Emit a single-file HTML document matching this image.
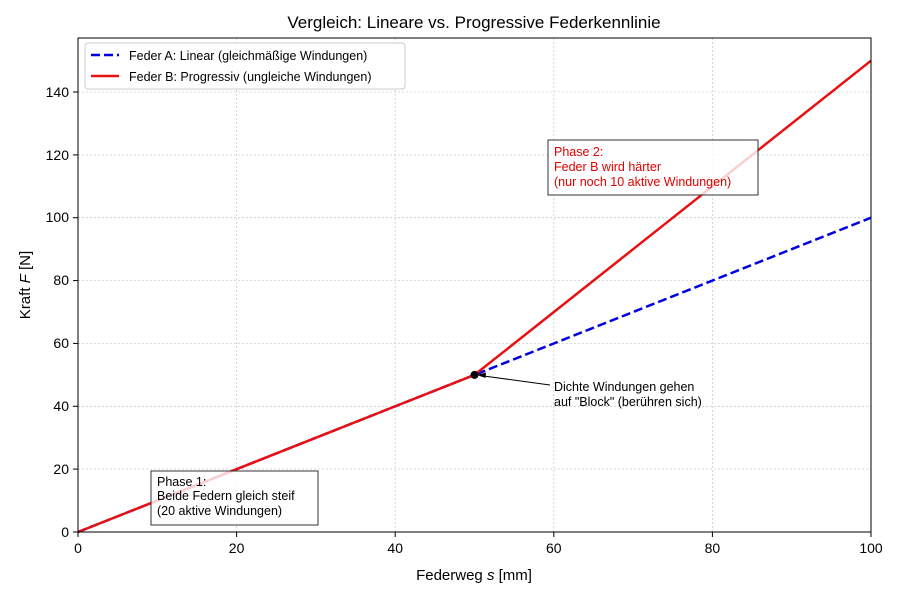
<!DOCTYPE html>
<html><head><meta charset="utf-8"><style>body{margin:0;background:#fff}</style></head><body>
<svg width="900" height="600" xmlns="http://www.w3.org/2000/svg" font-family="Liberation Sans, DejaVu Sans, sans-serif">
<rect width="900" height="600" fill="#fff"/>
<g stroke="#ccc" stroke-width="0.8" stroke-dasharray="2,2">
<line x1="78" y1="38" x2="78" y2="532"/><line x1="236.6" y1="38" x2="236.6" y2="532"/><line x1="395.2" y1="38" x2="395.2" y2="532"/><line x1="553.8" y1="38" x2="553.8" y2="532"/><line x1="712.4" y1="38" x2="712.4" y2="532"/>
<line x1="78" y1="469.1" x2="871" y2="469.1"/><line x1="78" y1="406.3" x2="871" y2="406.3"/><line x1="78" y1="343.4" x2="871" y2="343.4"/><line x1="78" y1="280.6" x2="871" y2="280.6"/><line x1="78" y1="217.7" x2="871" y2="217.7"/><line x1="78" y1="154.9" x2="871" y2="154.9"/><line x1="78" y1="92" x2="871" y2="92"/>
</g>
<polyline points="78,532 474.5,374.9 871,217.7" fill="none" stroke="#0000e0" stroke-width="2.5" stroke-dasharray="9,4"/>
<polyline points="78,532 474.5,374.9 871,60.7" fill="none" stroke="#e81010" stroke-width="2.5"/>
<circle cx="474.5" cy="374.9" r="4" fill="#000"/>
<line x1="550" y1="385" x2="480" y2="375.5" stroke="#000" stroke-width="1"/>
<polygon points="477,375 486,372.5 485.5,378" fill="#000"/>
<rect x="78" y="38" width="793" height="494" fill="none" stroke="#000" stroke-width="1"/>
<g stroke="#000"><line x1="78" y1="532" x2="78" y2="537"/><line x1="236.6" y1="532" x2="236.6" y2="537"/><line x1="395.2" y1="532" x2="395.2" y2="537"/><line x1="553.8" y1="532" x2="553.8" y2="537"/><line x1="712.4" y1="532" x2="712.4" y2="537"/><line x1="871" y1="532" x2="871" y2="537"/>
<line x1="73" y1="532" x2="78" y2="532"/><line x1="73" y1="469.1" x2="78" y2="469.1"/><line x1="73" y1="406.3" x2="78" y2="406.3"/><line x1="73" y1="343.4" x2="78" y2="343.4"/><line x1="73" y1="280.6" x2="78" y2="280.6"/><line x1="73" y1="217.7" x2="78" y2="217.7"/><line x1="73" y1="154.9" x2="78" y2="154.9"/><line x1="73" y1="92" x2="78" y2="92"/></g>
<g font-size="14" text-anchor="middle" fill="#000">
<text x="78" y="553">0</text><text x="236.6" y="553">20</text><text x="395.2" y="553">40</text><text x="553.8" y="553">60</text><text x="712.4" y="553">80</text><text x="871" y="553">100</text></g>
<g font-size="14" text-anchor="end" fill="#000">
<text x="69" y="537">0</text><text x="69" y="474">20</text><text x="69" y="411">40</text><text x="69" y="348">60</text><text x="69" y="285">80</text><text x="69" y="222">100</text><text x="69" y="160">120</text><text x="69" y="97">140</text></g>
<text x="474" y="28" font-size="17" text-anchor="middle">Vergleich: Lineare vs. Progressive Federkennlinie</text>
<text x="474" y="580" font-size="15" text-anchor="middle">Federweg <tspan font-style="italic">s</tspan> [mm]</text>
<text transform="translate(30,285) rotate(-90)" font-size="15" text-anchor="middle">Kraft <tspan font-style="italic">F</tspan> [N]</text>
<rect x="85" y="43" width="320" height="46" rx="3" fill="#fff" stroke="#ccc"/>
<line x1="91" y1="55" x2="119" y2="55" stroke="#0000e0" stroke-width="2.5" stroke-dasharray="9,4"/>
<line x1="91" y1="76" x2="119" y2="76" stroke="#e81010" stroke-width="2.5"/>
<text x="129" y="60" font-size="12.5">Feder A: Linear (gleichmäßige Windungen)</text>
<text x="129" y="81" font-size="12.5">Feder B: Progressiv (ungleiche Windungen)</text>
<rect x="151" y="471" width="167" height="54" fill="#fff" fill-opacity="0.8" stroke="#333"/>
<g font-size="12.5"><text x="157" y="486">Phase 1:</text><text x="157" y="500">Beide Federn gleich steif</text><text x="157" y="515">(20 aktive Windungen)</text></g>
<rect x="548" y="140" width="210" height="55" fill="#fff" fill-opacity="0.8" stroke="#333"/>
<g font-size="12.5" fill="#e00000"><text x="554" y="156">Phase 2:</text><text x="554" y="171">Feder B wird härter</text><text x="554" y="186">(nur noch 10 aktive Windungen)</text></g>
<g font-size="12.5"><text x="554" y="391">Dichte Windungen gehen</text><text x="554" y="406">auf "Block" (berühren sich)</text></g>
</svg>
</body></html>
